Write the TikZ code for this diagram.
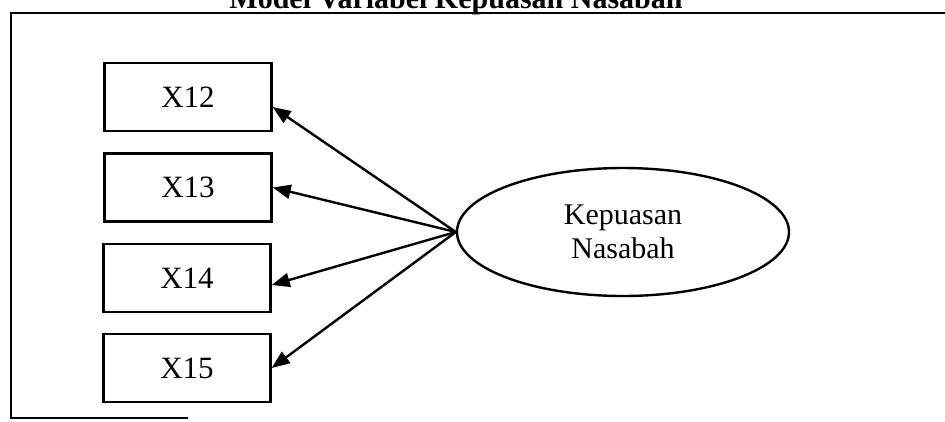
\documentclass[tikz,border=0pt]{standalone}
\usepackage{fontspec}
\setmainfont{Liberation Serif}
\usetikzlibrary{shapes.geometric,arrows.meta}
\begin{document}
\begin{tikzpicture}[x=1pt,y=-1pt,
  framebox/.style={draw, line width=2.4pt, minimum width=167pt, minimum height=68pt, inner sep=0pt, font=\fontsize{31}{36}\selectfont},
  latent/.style={draw, ellipse, line width=2.4pt, minimum width=332pt, minimum height=128pt, inner sep=0pt, align=center, font=\fontsize{30}{34}\selectfont},
  link/.style={line width=2.4pt, -{Triangle[length=18pt,width=14pt]}},
  frame/.style={line width=2.4pt}]
\useasboundingbox (0,0) rectangle (945,421);
\node[anchor=base, font=\bfseries\fontsize{30}{36}\selectfont] (title) at (456,8) {Model Variabel Kepuasan Nasabah};
\coordinate (ftl) at (11,13);
\coordinate (ftr) at (946,13);
\coordinate (fbl) at (11,418);
\coordinate (fbr) at (188,418);
\draw[frame] (ftr) -- (ftl) -- (fbl) -- (fbr);
\node[framebox] (x12) at (188,97) {X12};
\node[framebox] (x13) at (188,187.5) {X13};
\node[framebox] (x14) at (187,278) {X14};
\node[framebox] (x15) at (187,368) {X15};
\node[latent] (kep) at (623,232) {Kepuasan\\Nasabah};
\draw[link] (kep.west) -- ([yshift=-10pt]x12.east);
\draw[link] (kep.west) -- (x13.east);
\draw[link] (kep.west) -- ([yshift=-7pt]x14.east);
\draw[link] (kep.west) -- (x15.east);
\end{tikzpicture}
\end{document}
